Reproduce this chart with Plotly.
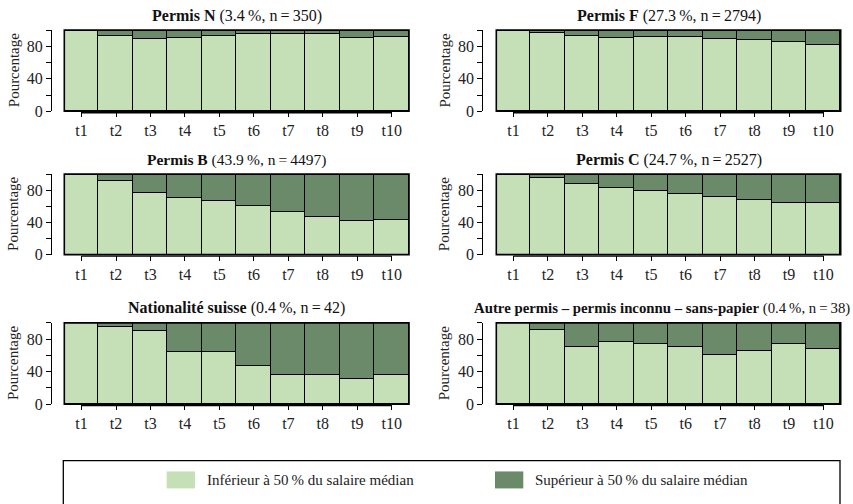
import plotly.graph_objects as go

# Deciles and share of each group below / above 50 % of the median wage
deciles = ["t1", "t2", "t3", "t4", "t5", "t6", "t7", "t8", "t9", "t10"]

titles_bold = [
    "Permis N",
    "Permis F",
    "Permis B",
    "Permis C",
    "Nationalité suisse",
    "Autre permis – permis inconnu – sans-papier",
]
titles_rest = [
    "(3.4\u2009%, n\u2009=\u2009350)",
    "(27.3\u2009%, n\u2009=\u20092794)",
    "(43.9\u2009%, n\u2009=\u20094497)",
    "(24.7\u2009%, n\u2009=\u20092527)",
    "(0.4\u2009%, n\u2009=\u200942)",
    "(0.4\u2009%, n\u2009=\u200938)",
]

low_permis_n = [100, 93, 89, 90, 93, 94.5, 94.5, 94.5, 90.5, 91.5]
low_permis_f = [99.6, 96.7, 92, 90.5, 91.5, 91.5, 89.5, 87.8, 85.8, 82]
low_permis_b = [100, 91, 76.5, 70, 66, 60, 52.5, 46.5, 42, 43.5]
low_permis_c = [100, 94.5, 87.3, 82.8, 79.2, 75.6, 71.2, 67.6, 64.6, 64.3]
low_suisse = [100, 95, 90.5, 64, 64, 47.5, 35.5, 35.5, 31, 35.7]
low_autre = [100, 92, 71, 76.3, 74, 71, 60.5, 65.8, 74, 68.3]

lows = [low_permis_n, low_permis_f, low_permis_b, low_permis_c, low_suisse, low_autre]

legend_labels = [
    "Inférieur à 50\u2009% du salaire médian",
    "Supérieur à 50\u2009% du salaire médian",
]

LIGHT = "#C5DFB6"
DARK = "#6A8A6A"
FONT = "Liberation Serif, serif"
W, H = 853, 504

# pixel geometry of the 3 x 2 grid
col_x = [(64.3, 409.0), (496.3, 840.7)]
row_y = [(30.7, 113.3), (177.3, 259.3), (328.7, 411.5)]
yaxis_x = [51.0, 482.3]
title_size = [16, 16, 15.5, 16, 16, 14.8]
title_shift = [0, 0, 0, 0, 0, -7]

fig = go.Figure()
layout = {}
shapes = []
annotations = []
pos = list(range(1, 11))

for i, low in enumerate(lows):
    r, c = divmod(i, 2)
    k = "" if i == 0 else str(i + 1)
    xa, ya = "x" + k, "y" + k
    high = [round(100 - v, 1) for v in low]

    fig.add_trace(go.Bar(
        x=pos, y=low, xaxis=xa, yaxis=ya, name=legend_labels[0],
        marker=dict(color=LIGHT, line=dict(color="black", width=1.3)),
        showlegend=False,
    ))
    fig.add_trace(go.Bar(
        x=pos, y=high, xaxis=xa, yaxis=ya, name=legend_labels[1],
        marker=dict(color=DARK, line=dict(color="black", width=1.3)),
        showlegend=False,
    ))

    x0, x1 = col_x[c]
    yt, yb = row_y[r]
    layout["xaxis" + k] = dict(
        domain=[x0 / W, x1 / W], range=[0.5, 10.5], anchor=ya,
        tickvals=pos, ticktext=deciles, ticks="outside", ticklen=5,
        tickwidth=1.3, tickcolor="black", showline=False, showgrid=False,
        zeroline=False, fixedrange=True,
        tickfont=dict(family=FONT, size=16, color="#222"),
    )
    layout["yaxis" + k] = dict(
        domain=[1 - yb / H, 1 - yt / H], range=[0, 100], anchor="free",
        position=yaxis_x[c] / W,
        tickvals=[0, 20, 40, 60, 80, 100], ticktext=["0", "", "40", "", "80", ""],
        ticks="outside", ticklen=5, tickwidth=1.3, tickcolor="black",
        showline=True, linecolor="black", linewidth=1.3,
        showgrid=False, zeroline=False, fixedrange=True,
        tickfont=dict(family=FONT, size=16, color="#222"),
    )

    # plot frame
    shapes.append(dict(type="rect", xref=xa + " domain", yref=ya + " domain",
                       x0=0, x1=1, y0=0, y1=1, line=dict(color="black", width=1.6)))
    # x axis line spanning the first to the last tick
    shapes.append(dict(type="line", xref=xa, yref=ya + " domain",
                       x0=1, x1=10, y0=-0.018, y1=-0.018,
                       line=dict(color="black", width=1.3)))

    annotations.append(dict(
        x=((x0 + x1) / 2 + title_shift[i]) / W, y=1 - (yt - 14.8) / H,
        xref="paper", yref="paper",
        text=f"<b>{titles_bold[i]}</b> {titles_rest[i]}", showarrow=False,
        xanchor="center", yanchor="middle",
        font=dict(family=FONT, size=title_size[i], color="#111"),
    ))
    annotations.append(dict(
        x=(yaxis_x[c] - 37.5) / W, y=1 - (yt + yb) / 2 / H, xref="paper", yref="paper",
        text="Pourcentage", textangle=-90, showarrow=False,
        xanchor="center", yanchor="middle",
        font=dict(family=FONT, size=15, color="#222"),
    ))

# legend frame and entries
shapes.append(dict(type="rect", xref="paper", yref="paper",
                   x0=63.3 / W, x1=840 / W, y0=-0.05, y1=1 - 469 / H,
                   line=dict(color="black", width=1.3)))
swatches = [(166.7, 195.0, LIGHT, 205.0), (495.0, 523.3, DARK, 533.0)]
for (sx0, sx1, col, tx), label in zip(swatches, legend_labels):
    shapes.append(dict(type="rect", xref="paper", yref="paper",
                       x0=sx0 / W, x1=sx1 / W, y0=1 - 497.3 / H, y1=1 - 480 / H,
                       line=dict(width=0), fillcolor=col))
    annotations.append(dict(
        x=tx / W, y=1 - 488.7 / H, xref="paper", yref="paper", text=label,
        showarrow=False, xanchor="left", yanchor="middle",
        font=dict(family=FONT, size=15, color="#222"),
    ))

fig.update_layout(
    width=W, height=H, margin=dict(l=0, r=0, t=0, b=0),
    paper_bgcolor="white", plot_bgcolor="white",
    barmode="stack", bargap=0,
    shapes=shapes, annotations=annotations,
    **layout,
)

fig.write_html("out.html")
